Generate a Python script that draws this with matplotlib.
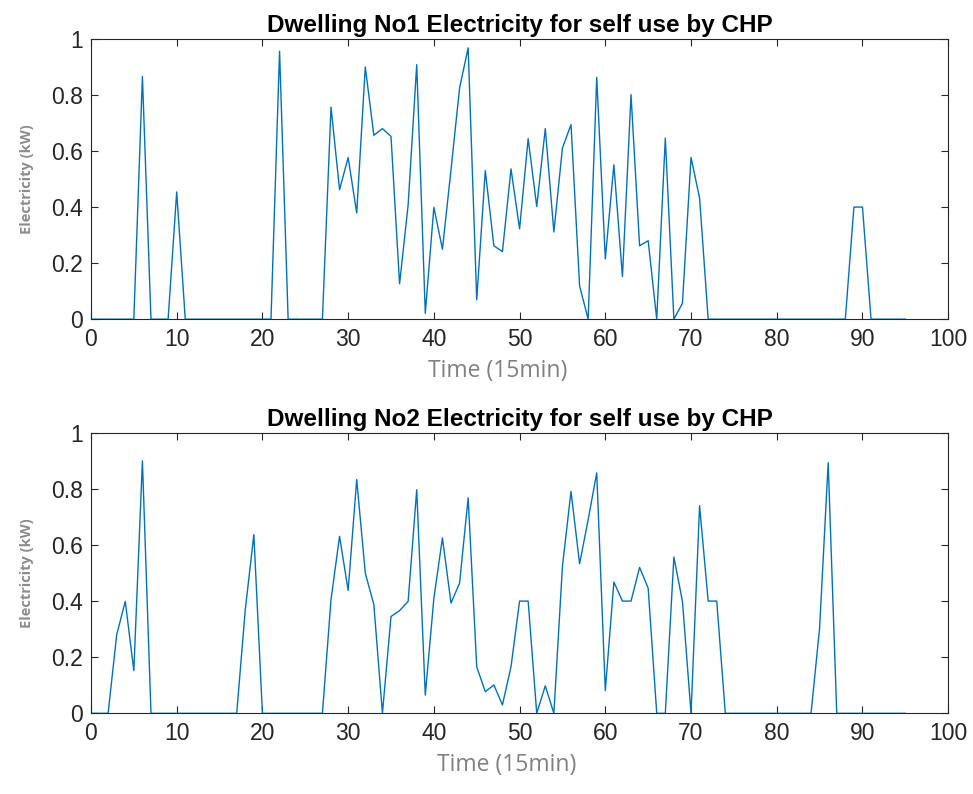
import numpy as np
import matplotlib.pyplot as plt

# time steps (15 min intervals over one day)
t = np.arange(96)

# dwelling 1: CHP electricity for self use (kW), non-zero periods
d1_nonzero = {
    6: 0.866, 10: 0.454, 22: 0.956,
    28: 0.757, 29: 0.462, 30: 0.577, 31: 0.379, 32: 0.90, 33: 0.656,
    34: 0.68, 35: 0.652, 36: 0.126, 37: 0.408, 38: 0.908, 39: 0.021,
    40: 0.399, 41: 0.25, 42: 0.533, 43: 0.825, 44: 0.968, 45: 0.069,
    46: 0.53, 47: 0.262, 48: 0.241, 49: 0.536, 50: 0.322, 51: 0.644,
    52: 0.402, 53: 0.68, 54: 0.311, 55: 0.611, 56: 0.694, 57: 0.119,
    59: 0.863, 60: 0.215, 61: 0.551, 62: 0.152, 63: 0.801, 64: 0.262,
    65: 0.28, 67: 0.646, 69: 0.057, 70: 0.577, 71: 0.432,
    89: 0.40, 90: 0.40,
}

# dwelling 2
d2_nonzero = {
    3: 0.28, 4: 0.399, 5: 0.152, 6: 0.90,
    18: 0.369, 19: 0.637,
    28: 0.405, 29: 0.631, 30: 0.438, 31: 0.833, 32: 0.50, 33: 0.387,
    35: 0.345, 36: 0.366, 37: 0.399, 38: 0.797, 39: 0.065, 40: 0.41,
    41: 0.625, 42: 0.393, 43: 0.464, 44: 0.768, 45: 0.166, 46: 0.077,
    47: 0.101, 48: 0.03, 49: 0.166, 50: 0.40, 51: 0.40, 53: 0.098,
    55: 0.524, 56: 0.791, 57: 0.533, 58: 0.69, 59: 0.857, 60: 0.081,
    61: 0.468, 62: 0.40, 63: 0.40, 64: 0.52, 65: 0.446,
    68: 0.557, 69: 0.399, 71: 0.74, 72: 0.40, 73: 0.40,
    85: 0.304, 86: 0.893,
}

d1 = np.zeros(96)
for k, v in d1_nonzero.items():
    d1[k] = v
d2 = np.zeros(96)
for k, v in d2_nonzero.items():
    d2[k] = v

titles = ['Dwelling No1 Electricity for self use by CHP',
          'Dwelling No2 Electricity for self use by CHP']

plt.rcParams['font.family'] = ['Liberation Sans', 'DejaVu Sans']

fig = plt.figure(figsize=(9.73, 7.94), dpi=100)
ax1 = fig.add_axes([0.0935, 0.598, 0.881, 0.353])
ax2 = fig.add_axes([0.0935, 0.1016, 0.881, 0.3534])

# x label sits a little left of centre
xlab_pos = [0.474, 0.485]

for ax, d, title, xl in zip([ax1, ax2], [d1, d2], titles, xlab_pos):
    ax.plot(t, d, color='#0072BD', lw=1.0)
    ax.set_xlim(0, 100)
    ax.set_ylim(0, 1)
    ax.set_xticks(np.arange(0, 101, 10))
    ax.set_yticks([0, 0.2, 0.4, 0.6, 0.8, 1])
    ax.set_yticklabels(['0', '0.2', '0.4', '0.6', '0.8', '1'])
    ax.tick_params(direction='in', top=True, right=True, labelsize=16.5,
                   colors='#262626', length=5, width=0.8, pad=6)
    for s in ax.spines.values():
        s.set_color('#262626')
        s.set_linewidth(0.8)
    ax.set_title(title, fontsize=17.5, fontweight='bold', pad=5)
    ax.set_xlabel('Time (15min)', fontsize=16.5, color='#808080',
                  family=['Open Sans', 'DejaVu Sans'], labelpad=6)
    ax.xaxis.label.set_x(xl)
    ax.set_ylabel('Electricity (kW)', fontsize=10.5, color='#8c8c8c',
                  family=['Open Sans', 'DejaVu Sans'], fontweight='bold',
                  labelpad=12)

fig.savefig('out.png', dpi=100)
